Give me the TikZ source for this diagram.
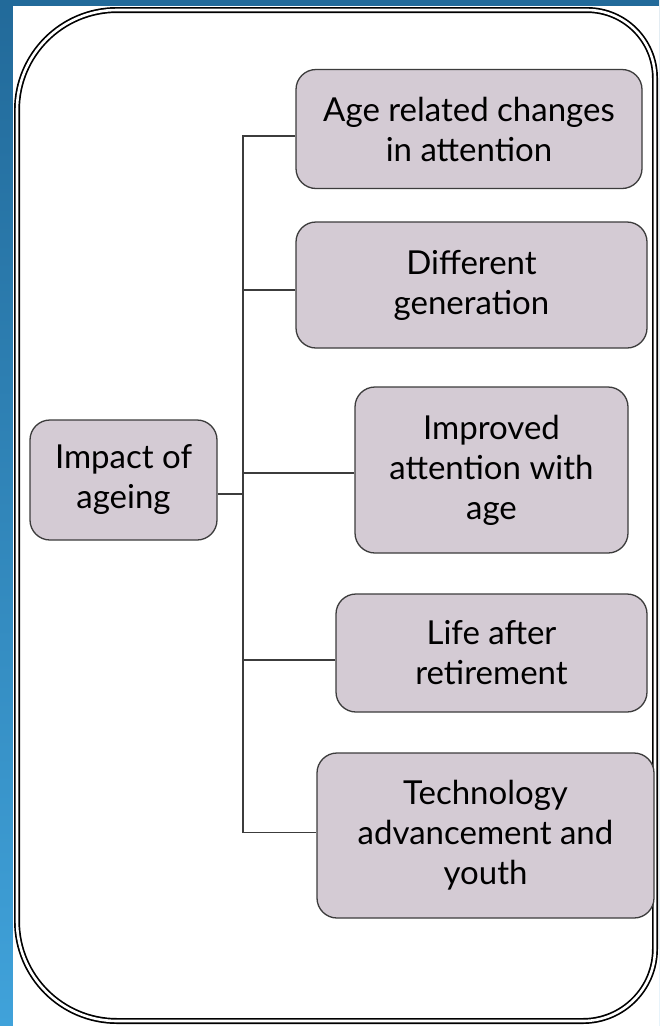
\documentclass[tikz,border=0pt]{standalone}
\usepackage{xcolor}
\usepackage{fontspec}
\setmainfont{Lato}
\usepackage{tikz}

\definecolor{bgdark}{HTML}{226A9A}
\definecolor{bglight}{HTML}{40A2DA}
\definecolor{boxfill}{HTML}{D4CBD4}
\definecolor{boxline}{HTML}{3C3C3C}

\tikzset{
  topic/.style={draw=boxline, line width=1.3pt, fill=boxfill, rounded corners=20pt,
    align=center, inner sep=0pt, font=\fontsize{33}{40}\selectfont},
  link/.style={draw=boxline, line width=1.3pt}
}

\begin{document}
\begin{tikzpicture}[x=1pt, y=-1pt]

    \useasboundingbox (0,0) rectangle (659,1026);

    % background
    \shade[top color=bgdark, bottom color=bglight] (0,0) rectangle (659,1026);
    \fill[white] (13,6) rectangle (659,1026);

    % outer frame
    \draw[double=white, double distance=2.6pt, line width=1.7pt]
      (17,500) [rounded corners=100pt] -- (17,10)
      [rounded corners=68pt] -- (655,10)
      [rounded corners=72pt] -- (655,1021)
      [rounded corners=100pt] -- (17,1021) -- cycle;

    % root
    \node[topic, minimum width=187pt, minimum height=120pt] (root) at (123.5,480)
      {Impact of\\ageing};

    % branches
    \node[topic, minimum width=346pt, minimum height=119pt] (b1) at (469,129)
      {Age related changes\\in attention};
    \node[topic, minimum width=351pt, minimum height=126pt] (b2) at (471.5,285)
      {Different\\generation};
    \node[topic, minimum width=273pt, minimum height=166pt] (b3) at (491.5,470)
      {Improved\\attention with\\age};
    \node[topic, minimum width=311pt, minimum height=118pt] (b4) at (491.5,653)
      {Life after\\retirement};
    \node[topic, minimum width=337pt, minimum height=165pt] (b5) at (485.5,835.5)
      {Technology\\advancement and\\youth};

    % connector ends
    \coordinate (r0) at ([yshift=-14pt]root.east);
    \coordinate (e1) at ([yshift=-7pt]b1.west);
    \coordinate (e2) at ([yshift=-5pt]b2.west);
    \coordinate (e3) at ([yshift=-3pt]b3.west);
    \coordinate (e4) at ([yshift=-7pt]b4.west);
    \coordinate (e5) at ([yshift=3pt]b5.west);
    \coordinate (trunk) at (243,0);

    % connectors
    \draw[link] (r0) -- (trunk |- r0);
    \draw[link] (e1) -| (trunk |- e5) -- (e5);
    \draw[link] (e2) -- (trunk |- e2);
    \draw[link] (e3) -- (trunk |- e3);
    \draw[link] (e4) -- (trunk |- e4);

\end{tikzpicture}
\end{document}
